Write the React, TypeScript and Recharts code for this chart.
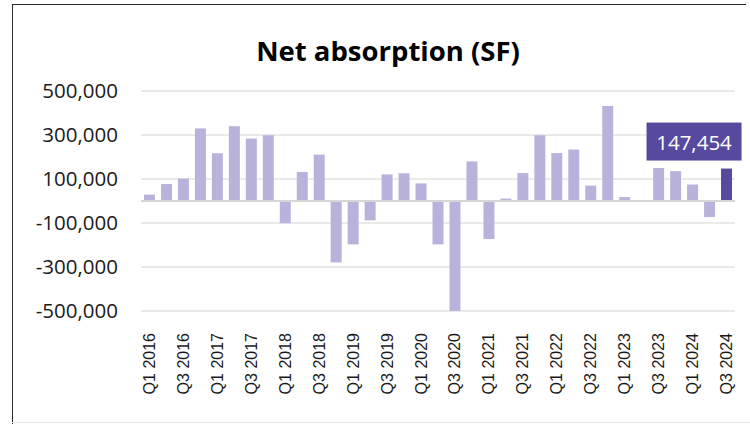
import { BarChart, Bar, XAxis, YAxis, CartesianGrid, ReferenceLine, Cell, LabelList } from 'recharts'

const quarters = [
  'Q1 2016', 'Q2 2016', 'Q3 2016', 'Q4 2016',
  'Q1 2017', 'Q2 2017', 'Q3 2017', 'Q4 2017',
  'Q1 2018', 'Q2 2018', 'Q3 2018', 'Q4 2018',
  'Q1 2019', 'Q2 2019', 'Q3 2019', 'Q4 2019',
  'Q1 2020', 'Q2 2020', 'Q3 2020', 'Q4 2020',
  'Q1 2021', 'Q2 2021', 'Q3 2021', 'Q4 2021',
  'Q1 2022', 'Q2 2022', 'Q3 2022', 'Q4 2022',
  'Q1 2023', 'Q2 2023', 'Q3 2023', 'Q4 2023',
  'Q1 2024', 'Q2 2024', 'Q3 2024',
]

const absorption = [
  29000, 77000, 102000, 330000,
  217000, 340000, 284000, 299000,
  -101000, 132000, 211000, -279000,
  -197000, -88000, 121000, 126000,
  80000, -197000, -505000, 180000,
  -173000, 11000, 127000, 299000,
  218000, 234000, 70000, 432000,
  18000, 0, 150000, 136000,
  75000, -73000, 147454,
]

const yTicks = [-500000, -300000, -100000, 100000, 300000, 500000]

const LIGHT = '#b9b3dc'
const DARK = '#574a9e'

const data = quarters.map((q, i) => ({ quarter: q, value: absorption[i] }))
const lastIndex = data.length - 1
const lastValue = absorption[lastIndex]

const fmt = (v: number) => Number(v).toLocaleString('en-US')

function XTick({ x, y, payload }: any) {
  return (
    <g transform={`translate(${x},${y})`}>
      <text
        transform="rotate(-90)"
        x={-14}
        y={0}
        textAnchor="end"
        dominantBaseline="central"
        fontFamily="Liberation Sans"
        fontSize={16}
        fill="#1a1a1a"
      >
        {payload.value}
      </text>
    </g>
  )
}

// callout box over the latest quarter
function CalloutLabel(props: any) {
  const { value } = props
  if (Number(value) !== lastValue) return null
  const vb = props.viewBox || {}
  const x = props.x ?? vb.x
  const y = props.y ?? vb.y
  const width = props.width ?? vb.width
  const cx = x + width / 2
  const left = cx - 80
  const top = y - 46
  return (
    <g>
      <rect x={left} y={top} width={95} height={38} fill={DARK} />
      <text
        x={left + 47.5}
        y={top + 19}
        textAnchor="middle"
        dominantBaseline="central"
        fontFamily="Open Sans"
        fontSize={20.5}
        fill="#ffffff"
      >
        {fmt(value)}
      </text>
    </g>
  )
}

export default function App() {
  return (
    <div style={{ position: 'absolute', left: 0, top: 0, width: 750, height: 424, background: '#fff', overflow: 'hidden' }}>
      <div
        style={{
          position: 'absolute',
          left: 12,
          top: 4,
          width: 733,
          height: 430,
          borderLeft: '1.5px solid #2a2a2a',
          borderTop: '1.5px solid #2a2a2a',
        }}
      />
      <div style={{ position: 'absolute', left: 12, top: 422, width: 740, height: 1, background: '#e6e6e6' }} />
      <BarChart
        width={750}
        height={424}
        data={data}
        margin={{ top: 91, right: 15, bottom: 13, left: 0 }}
        barSize={11}
        style={{ position: 'absolute', left: 0, top: 0 }}
      >
        <text x={388} y={61} textAnchor="middle" fontFamily="Open Sans" fontWeight={700} fontSize={27.5} fill="#000">
          Net absorption (SF)
        </text>
        <CartesianGrid vertical={false} stroke="#e3e3e3" strokeWidth={1.5} />
        <XAxis
          dataKey="quarter"
          interval={1}
          height={100}
          axisLine={false}
          tickLine={false}
          tick={<XTick />}
        />
        <YAxis
          width={141}
          domain={[-500000, 500000]}
          ticks={yTicks}
          allowDataOverflow
          axisLine={false}
          tickLine={false}
          tickSize={0}
          tickMargin={23}
          tickFormatter={fmt}
          tick={{ fontFamily: 'Open Sans', fontSize: 20.5, fill: '#1a1a1a' }}
        />
        <ReferenceLine y={0} stroke="#d6d6d6" strokeWidth={2} />
        <Bar dataKey="value" isAnimationActive={false}>
          {data.map((d, i) => (
            <Cell key={d.quarter} fill={i === lastIndex ? DARK : LIGHT} />
          ))}
          <LabelList dataKey="value" content={(p: any) => <CalloutLabel {...p} />} />
        </Bar>
      </BarChart>
    </div>
  )
}
